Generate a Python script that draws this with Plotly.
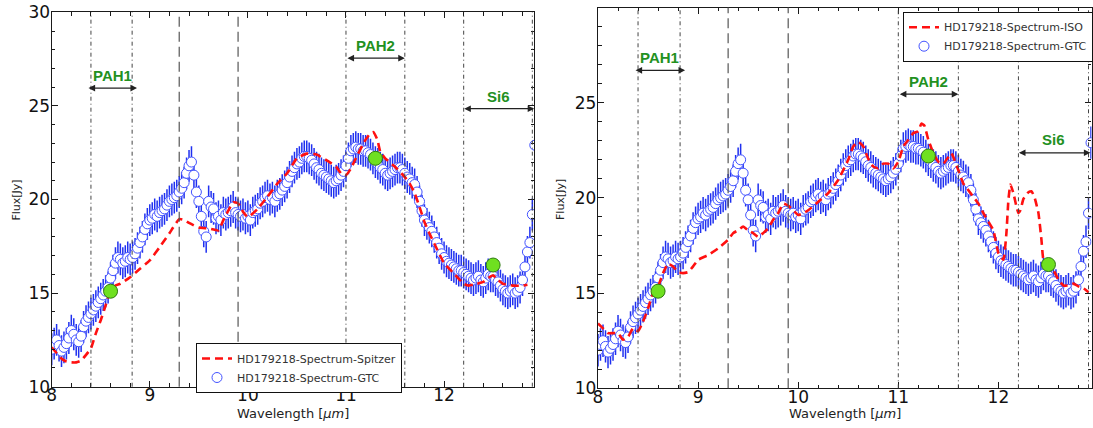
import numpy as np
import plotly.graph_objects as go

# ---------------- data ----------------
# GTC spectrum of HD179218, sampled every 0.025 um starting at 8.0 um
GTC_START = 8.0
GTC_STEP = 0.025
GTC_FLUX = [
    12.0, 12.3, 12.5, 12.2, 11.9, 12.1, 12.3, 12.6, 13.0, 12.8,
    12.5, 12.4, 12.7, 13.2, 13.5, 13.7, 13.9, 14.1, 14.3, 14.5,
    14.7, 14.9, 15.1, 15.3, 15.8, 16.2, 16.6, 16.9, 16.8, 16.6,
    16.7, 16.9, 16.8, 16.9, 17.1, 17.4, 17.7, 18.0, 18.4, 18.7,
    18.9, 19.0, 19.2, 19.1, 19.3, 19.4, 19.5, 19.7, 19.9, 20.0,
    20.1, 20.2, 20.4, 20.6, 20.9, 21.4, 21.8, 22.0, 21.3, 20.4,
    19.9, 19.1, 18.3, 18.0, 19.9, 19.6, 19.5, 19.0, 19.1, 18.9,
    19.3, 19.2, 19.3, 19.4, 19.6, 19.3, 19.2, 19.1, 19.2, 19.0,
    19.1, 18.9, 19.3, 19.4, 19.5, 19.8, 19.9, 20.1, 20.2, 20.0,
    20.1, 19.9, 20.2, 20.3, 20.5, 20.7, 20.9, 21.2, 21.5, 21.7,
    21.9, 22.0, 22.2, 22.3, 22.3, 22.2, 22.1, 21.9, 21.7, 21.6,
    21.4, 21.3, 21.2, 21.1, 21.0, 20.9, 21.0, 21.1, 21.3, 21.5,
    21.8, 22.2, 22.6, 22.7, 22.8, 22.7, 22.7, 22.6, 22.6, 22.5,
    22.4, 22.2, 22.0, 21.9, 21.7, 21.6, 21.4, 21.3, 21.4, 21.5,
    21.6, 21.7, 21.7, 21.6, 21.4, 21.2, 21.1, 20.9, 20.8, 20.4,
    19.9, 19.4, 18.9, 18.7, 18.5, 18.3, 18.0, 17.7, 17.4, 17.1,
    16.9, 16.7, 16.6, 16.5, 16.4, 16.3, 16.2, 16.2, 16.1, 16.0,
    15.9, 15.8, 15.7, 15.8, 15.9, 15.7, 15.6, 15.8, 16.0, 15.9,
    15.9, 15.7, 15.6, 15.4, 15.2, 15.1, 15.0, 15.1, 15.2, 15.0,
    15.1, 15.3, 15.7, 16.4, 17.2, 17.7, 19.2, 22.9,
]
GTC_ERR = 0.85
GTC_WL = np.round(GTC_START + GTC_STEP * np.arange(len(GTC_FLUX)), 3)

# Spitzer spectrum
SPITZER_WL = [8.0, 8.05, 8.1, 8.15, 8.2, 8.25, 8.3, 8.35, 8.4, 8.45,
              8.5, 8.55, 8.6, 8.65, 8.7, 8.8, 8.9, 9.0, 9.1, 9.2,
              9.3, 9.35, 9.4, 9.5, 9.6, 9.7, 9.75, 9.8, 9.85, 9.9,
              9.95, 10.0, 10.05, 10.1, 10.2, 10.3, 10.4, 10.5, 10.6, 10.7,
              10.8, 10.9, 10.95, 11.0, 11.05, 11.1, 11.2, 11.25, 11.28, 11.32,
              11.35, 11.4, 11.5, 11.6, 11.65, 11.7, 11.75, 11.8, 11.85, 11.9,
              12.0, 12.1, 12.2, 12.25, 12.3, 12.4, 12.45, 12.5, 12.55, 12.6,
              12.7, 12.8, 12.85]
SPITZER_FLUX = [12.1, 11.8, 11.5, 11.35, 11.3, 11.3, 11.4, 11.7, 12.05, 12.85,
                13.55, 14.35, 15.15, 15.4, 15.5, 15.85, 16.3, 16.75, 17.45, 18.2,
                18.95, 18.9, 18.75, 18.5, 18.45, 18.35, 18.9, 19.4, 19.85, 19.8,
                19.35, 19.05, 19.25, 19.5, 20.15, 20.85, 21.4, 22.2, 22.45, 22.4,
                22.1, 21.75, 21.4, 21.3, 21.65, 22.2, 23.2, 23.55, 23.6, 23.2,
                22.55, 22.2, 21.75, 21.2, 20.85, 20.35, 19.6, 18.8, 18.2, 17.65,
                16.6, 16.05, 15.5, 15.4, 15.45, 15.6, 15.8, 15.95, 15.7, 15.5,
                15.4, 15.4, 15.45]

# ISO spectrum
ISO_WL = [8.0, 8.05, 8.1, 8.15, 8.2, 8.25, 8.3, 8.35, 8.4, 8.45,
          8.5, 8.55, 8.6, 8.65, 8.7, 8.75, 8.8, 8.85, 8.9, 8.95,
          9.0, 9.1, 9.2, 9.3, 9.35, 9.4, 9.45, 9.5, 9.55, 9.6,
          9.65, 9.7, 9.75, 9.8, 9.85, 9.9, 9.95, 10.0, 10.05, 10.1,
          10.2, 10.3, 10.4, 10.5, 10.55, 10.6, 10.65, 10.7, 10.75, 10.8,
          10.85, 10.9, 10.95, 11.0, 11.05, 11.1, 11.15, 11.2, 11.23, 11.26,
          11.3, 11.35, 11.4, 11.45, 11.5, 11.53, 11.55, 11.6, 11.65, 11.7,
          11.75, 11.8, 11.85, 11.9, 11.95, 12.0, 12.05, 12.08, 12.1, 12.12,
          12.15, 12.18, 12.2, 12.22, 12.25, 12.3, 12.33, 12.36, 12.4, 12.43,
          12.45, 12.5, 12.55, 12.6, 12.65, 12.7, 12.75, 12.8, 12.85, 12.9]
ISO_FLUX = [13.4, 13.15, 12.9, 12.9, 12.9, 12.55, 12.7, 13.15, 13.0, 13.5,
            14.2, 15.0, 15.35, 16.05, 16.55, 16.4, 16.1, 16.05, 16.1, 16.4,
            16.75, 17.0, 17.35, 17.8, 18.15, 18.3, 18.5, 18.3, 18.15, 17.95,
            18.15, 18.4, 18.85, 19.2, 19.7, 19.6, 19.35, 19.1, 19.2, 19.35,
            19.8, 20.25, 20.95, 22.0, 22.7, 22.95, 22.7, 22.05, 21.65, 21.55,
            21.8, 21.8, 21.55, 21.9, 22.7, 23.05, 23.4, 23.5, 23.9, 23.8,
            23.05, 22.35, 21.9, 21.8, 22.15, 22.35, 22.15, 21.45, 20.75, 20.4,
            20.05, 19.7, 19.2, 18.75, 18.3, 17.1, 16.75, 18.15, 19.9, 20.7,
            20.25, 19.55, 19.2, 19.35, 19.95, 20.3, 20.35, 20.05, 19.2, 17.8,
            16.75, 16.4, 16.2, 15.7, 15.4, 15.4, 15.5, 15.35, 15.25, 15.05]

# Photometric points (PAH1, PAH2, Si6)
PHOT_WL = [8.6, 11.3, 12.5]
PHOT_FLUX = [15.1, 22.2, 16.5]

# Filter band limits and labels
BAND_NAMES = ["PAH1", "PAH2", "Si6"]
BAND_LO = [8.36, 11.0, 12.19]
BAND_HI = [8.87, 11.6, 12.92]
EDGE_DOTDASH = [8.4, 8.82, 11.0, 11.6, 12.2, 12.9]
EDGE_DASH = [9.3, 9.9]

X_TICKS = [8, 9, 10, 11, 12]
Y_TICKS = [10, 15, 20, 25, 30]

# ---------------- figure ----------------
FONT = "DejaVu Sans"
AX_COLOR = "#1a1a1a"
fig = go.Figure()

panels = [
    dict(xa="x", ya="y", legend="legend", ref_name="HD179218-Spectrum-Spitzer",
         ref_wl=SPITZER_WL, ref_flux=SPITZER_FLUX,
         band_y=[25.95, 27.55, 24.85], label_dy=0.65),
    dict(xa="x2", ya="y2", legend="legend2", ref_name="HD179218-Spectrum-ISO",
         ref_wl=ISO_WL, ref_flux=ISO_FLUX,
         band_y=[26.7, 25.45, 22.37], label_dy=0.68),
]

for p in panels:
    fig.add_trace(go.Scatter(
        x=GTC_WL, y=GTC_FLUX, mode="markers", name="HD179218-Spectrum-GTC",
        xaxis=p["xa"], yaxis=p["ya"], legend=p["legend"], legendrank=2,
        error_y=dict(type="constant", value=GTC_ERR, color="#1f30f0",
                     thickness=1.5, width=0),
        marker=dict(symbol="circle", size=10, color="white",
                    line=dict(color="#4353ff", width=1)),
    ))
    fig.add_trace(go.Scatter(
        x=p["ref_wl"], y=p["ref_flux"], mode="lines", name=p["ref_name"],
        xaxis=p["xa"], yaxis=p["ya"], legend=p["legend"], legendrank=1,
        line=dict(color="#ff1010", width=2.6, dash="8px,5px", shape="spline",
                  smoothing=0.4),
    ))
    fig.add_trace(go.Scatter(
        x=PHOT_WL, y=PHOT_FLUX, mode="markers", showlegend=False,
        xaxis=p["xa"], yaxis=p["ya"],
        marker=dict(symbol="circle", size=14, color="#6fe020",
                    line=dict(color="#2f7a12", width=1)),
    ))

    for xv in EDGE_DOTDASH:
        fig.add_shape(type="line", xref=p["xa"], yref=f"{p['ya']} domain",
                      x0=xv, x1=xv, y0=0, y1=1,
                      line=dict(color="#444444", width=1, dash="4px,3px,1px,3px"))
    for xv in EDGE_DASH:
        fig.add_shape(type="line", xref=p["xa"], yref=f"{p['ya']} domain",
                      x0=xv, x1=xv, y0=0, y1=1,
                      line=dict(color="#555555", width=1.2, dash="10px,5px"))

    for name, lo, hi, by in zip(BAND_NAMES, BAND_LO, BAND_HI, p["band_y"]):
        fig.add_annotation(
            x=hi, y=by, ax=lo, ay=by, xref=p["xa"], yref=p["ya"],
            axref=p["xa"], ayref=p["ya"], text="", showarrow=True,
            arrowside="end+start", arrowhead=2, startarrowhead=2,
            arrowsize=1.1, startarrowsize=1.1, arrowwidth=1.2,
            arrowcolor="#222222", standoff=0, startstandoff=0)
        fig.add_annotation(
            x=(lo + hi) / 2, y=by + p["label_dy"], xref=p["xa"], yref=p["ya"],
            text=f"<b>{name}</b>", showarrow=False,
            font=dict(family="Liberation Sans", size=15, color="#23911f"))

common_axis = dict(
    showline=True, linecolor=AX_COLOR, linewidth=1.3, mirror="ticks",
    ticks="inside", ticklen=6, tickwidth=1, tickcolor=AX_COLOR,
    showgrid=False, zeroline=False, automargin=False,
    tickfont=dict(family=FONT, size=17, color="#111111"),
)

x_common = dict(common_axis, tickvals=X_TICKS, ticklabelstandoff=-7,
                minor=dict(dtick=0.2, tick0=8, ticks="inside", ticklen=3.5,
                           tickcolor=AX_COLOR, tickwidth=1, showgrid=False))
y_common = dict(common_axis, tickvals=Y_TICKS, range=[10, 30],
                ticklabelstandoff=-3,
                minor=dict(dtick=1, tick0=10, ticks="inside", ticklen=3.5,
                           tickcolor=AX_COLOR, tickwidth=1, showgrid=False))

W, H = 1093, 428
fig.update_layout(
    width=W, height=H,
    margin=dict(l=0, r=0, t=0, b=0, autoexpand=False),
    paper_bgcolor="white", plot_bgcolor="white",
    xaxis=dict(x_common, domain=[51.7 / W, 534.3 / W], range=[8, 12.92],
               anchor="y"),
    yaxis=dict(y_common, domain=[1 - 386.7 / H, 1 - 12.3 / H], anchor="x"),
    xaxis2=dict(x_common, domain=[598 / W, 1091.5 / W], range=[8, 12.93],
                anchor="y2"),
    yaxis2=dict(y_common, domain=[1 - 388.3 / H, 1 - 7.5 / H], anchor="x2"),
    legend=dict(x=196 / W, y=1 - 343 / H, xanchor="left", yanchor="top",
                bgcolor="white", bordercolor="#111111", borderwidth=1,
                font=dict(family=FONT, size=11, color="#333333"),
                itemwidth=30, tracegroupgap=0),
    legend2=dict(x=903 / W, y=1 - 11.7 / H, xanchor="left", yanchor="top",
                 bgcolor="white", bordercolor="#111111", borderwidth=1,
                 font=dict(family=FONT, size=11, color="#333333"),
                 itemwidth=30, tracegroupgap=0),
    showlegend=True,
)

# axis titles
for cx, ty in [((51.7 + 534.3) / 2 / W, 15.6 / W), ((598 + 1091.5) / 2 / W, 560 / W)]:
    fig.add_annotation(x=cx, y=1 - 413 / H, xref="paper", yref="paper",
                       xanchor="center", yanchor="middle",
                       text="Wavelength [<i>μm</i>]", showarrow=False,
                       font=dict(family=FONT, size=13, color="#222222"))
    fig.add_annotation(x=ty, y=1 - 200 / H, xref="paper", yref="paper",
                       xanchor="center", yanchor="middle",
                       text="Flux[Jy]", showarrow=False, textangle=-90,
                       font=dict(family=FONT, size=11, color="#222222"))

fig.write_html("out.html")
